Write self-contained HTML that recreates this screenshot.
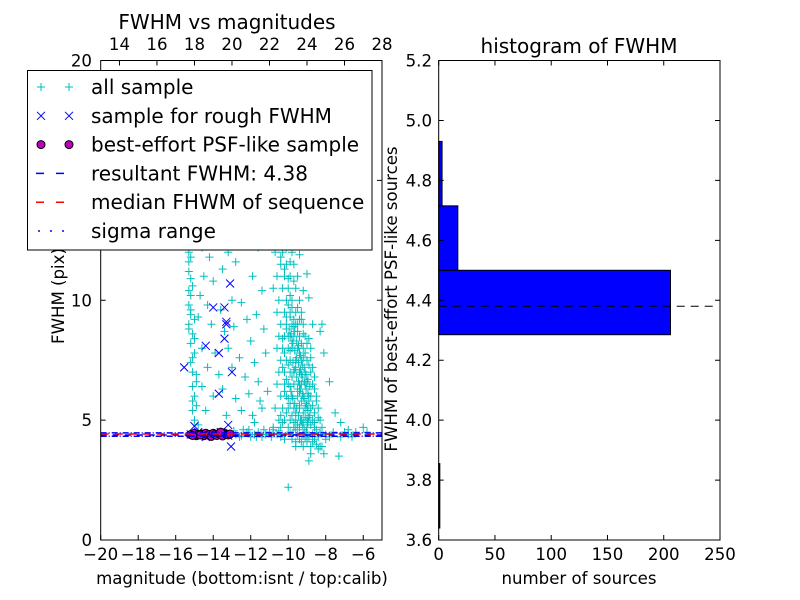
<!DOCTYPE html>
<html><head><meta charset="utf-8"><style>
body{margin:0;background:#fff;}
svg{display:block;font-family:"DejaVu Sans","Liberation Sans",sans-serif;}
</style></head><body>
<svg id="c" width="800" height="600" viewBox="0 0 800 600"></svg>
<script>
const allSample=[[-15.3,12.0],[-15.2,11.8],[-15.3,11.2],[-15.1,10.6],[-15.3,9.8],[-15.2,9.4],[-15.0,9.2],[-15.3,9.0],[-15.1,8.6],[-15.2,8.2],[-15.0,7.8],[-15.2,7.4],[-15.1,7.0],[-14.9,6.6],[-15.1,6.4],[-15.0,6.0],[-14.9,5.6],[-15.1,5.4],[-15.0,5.0],[-14.8,4.8],[-15.2,10.2],[-15.3,8.8],[-15.1,7.6],[-14.9,6.9],[-15.3,11.6],[-15.2,10.9],[-15.3,10.4],[-15.2,9.6],[-15.0,8.4],[-15.1,5.8],
[-14.6,12.2],[-14.2,11.8],[-13.8,12.4],[-13.2,12.0],[-14.5,11.0],[-14.0,10.8],[-13.5,11.3],[-12.8,11.6],[-14.7,10.2],[-14.3,9.8],[-13.6,9.6],[-13.0,10.0],[-12.5,9.9],[-14.8,9.3],[-14.1,9.0],[-13.4,8.7],[-12.9,8.9],[-12.2,9.2],[-14.6,8.0],[-13.9,7.8],[-13.2,8.0],[-12.6,7.6],[-12.0,8.3],[-14.3,7.2],[-13.7,6.9],[-13.0,7.2],[-12.3,6.8],[-11.8,7.4],[-14.6,6.4],[-14.0,6.0],[-13.5,6.3],[-12.8,5.9],[-12.1,6.1],[-11.6,6.6],[-14.4,5.4],[-13.3,5.2],[-12.5,5.4],[-11.9,5.2],[-14.0,13.0],[-13.0,13.4],[-12.4,12.8],[-11.6,12.2],[-11.9,11.0],[-11.4,10.4],[-11.7,9.4],[-11.3,8.8],[-11.2,7.8],[-11.5,5.8],[-11.1,6.2],
[-10.6,13.0],[-10.2,13.0],[-9.9,12.9],[-10.5,12.5],[-10.0,12.5],[-9.6,12.4],[-10.7,12.0],[-10.3,12.0],[-9.8,12.0],[-9.4,11.9],[-10.4,11.5],[-10.1,11.5],[-9.7,11.5],[-10.6,11.0],[-10.2,11.0],[-9.9,11.0],[-9.5,11.0],[-9.0,11.1],[-10.8,10.5],[-10.3,10.5],[-10.0,10.5],[-9.6,10.5],[-9.2,10.4],[-10.5,10.0],[-10.1,10.0],[-9.8,10.0],[-9.4,10.0],[-8.9,10.1],[-10.6,9.5],[-10.2,9.5],[-9.9,9.5],[-9.6,9.5],[-9.3,9.5],[-10.4,9.0],[-10.1,9.0],[-9.8,9.0],[-9.5,9.0],[-9.2,9.0],[-8.7,9.0],[-10.5,8.5],[-10.2,8.5],[-9.9,8.5],[-9.7,8.5],[-9.4,8.5],[-9.1,8.5],[-10.6,8.0],[-10.3,8.0],[-10.0,8.0],[-9.8,8.0],[-9.5,8.0],[-9.2,8.0],[-8.8,8.0],[-10.4,7.5],[-10.1,7.5],[-9.9,7.5],[-9.6,7.5],[-9.3,7.5],[-9.0,7.5],[-10.5,7.0],[-10.2,7.0],[-9.9,7.0],[-9.7,7.0],[-9.4,7.0],[-9.1,7.0],[-8.8,7.0],[-10.6,6.5],[-10.2,6.5],[-10.0,6.5],[-9.7,6.5],[-9.4,6.5],[-9.1,6.5],[-8.7,6.5],[-10.4,6.0],[-10.1,6.0],[-9.8,6.0],[-9.5,6.0],[-9.2,6.0],[-8.9,6.0],[-8.5,6.0],[-10.7,5.5],[-10.3,5.5],[-10.0,5.5],[-9.7,5.5],[-9.4,5.5],[-9.1,5.5],[-8.8,5.5],[-8.4,5.5],[-10.5,5.0],[-10.2,5.0],[-9.9,5.0],[-9.6,5.0],[-9.3,5.0],[-9.0,5.0],[-8.7,5.0],[-8.3,5.0],[-10.8,4.7],[-10.4,4.7],[-10.0,4.7],[-9.7,4.7],[-9.4,4.7],[-9.0,4.7],[-8.6,4.7],[-8.2,4.7],[-10.2,4.2],[-9.8,4.2],[-9.4,4.2],[-9.0,4.2],[-8.6,4.2],[-8.0,4.2],[-9.6,3.9],[-9.2,3.9],[-8.8,3.9],[-8.3,3.9],[-8.8,3.6],[-8.1,3.6],[-7.3,3.5],
[-9.8,8.3],[-9.6,7.2],[-9.5,6.3],[-9.3,5.8],[-9.6,5.3],[-9.2,4.9],[-9.9,4.5],[-9.5,4.4],[-9.8,6.8],[-9.4,7.8],[-9.7,9.2],[-9.9,10.2],[-10.1,8.8],
[-9.95,8.8],[-9.85,8.6],[-9.75,8.2],[-9.65,7.9],[-9.55,7.6],[-9.45,7.4],[-9.35,7.1],[-9.25,6.8],[-9.15,6.6],[-9.05,6.3],[-8.95,6.1],[-9.65,8.7],[-9.55,8.3],[-9.45,8.1],[-9.35,7.7],[-9.25,7.3],[-9.15,7.2],[-9.05,6.9],[-8.95,6.7],[-8.85,6.4],[-9.75,7.4],[-9.65,7.1],[-9.55,6.8],[-9.45,6.6],[-9.35,6.3],[-9.25,6.1],[-9.15,5.9],[-9.05,5.7],[-8.95,5.4],[-8.85,5.2],[-9.85,6.2],[-9.75,5.9],[-9.65,5.7],[-9.55,5.5],[-9.45,5.2],[-9.35,5.0],[-9.25,4.8],[-9.15,4.6],[-9.05,4.5],[-8.95,4.9],[-9.8,5.2],[-9.7,4.9],[-9.6,4.6],[-9.5,4.8],[-9.4,5.6],[-9.3,6.5],[-9.2,5.3],[-9.1,5.1],[-9.0,5.6],[-8.9,5.8],[-8.8,4.8],[-8.7,4.4],[-8.6,5.3],[-8.5,4.6],[-8.4,4.3],[-10.0,9.8],[-9.9,9.3],[-9.8,9.7],[-9.7,8.9],[-9.6,9.0],[-9.5,8.7],[-9.4,9.2],[-9.3,8.2],[-9.2,8.6],[-10.1,9.3],[-10.0,8.5],[-9.9,7.9],[-10.3,8.4],[-10.2,7.8],[-10.0,7.3],[-10.3,7.2],[-10.1,6.7],[-9.9,6.4],[-10.2,6.2],[-10.0,5.9],[-10.1,5.3],[-9.9,5.7],[-10.4,5.2],[-10.3,4.9],[-10.0,10.9],[-10.2,11.3],[-10.4,11.8],[-10.3,12.3],[-10.1,12.2],[-9.9,11.6],[-9.7,10.8],[-9.5,9.7],[-9.3,9.2],[-9.2,4.4],[-9.0,4.1],[-8.9,4.3],[-8.7,4.1],[-8.5,4.0],[-8.4,3.8],[-8.2,3.9],[-9.1,4.3],[-9.3,4.1],[-9.6,4.1],[-9.8,4.4],
[-8.8,7.6],[-8.7,7.2],[-8.6,6.8],[-8.6,6.3],[-8.5,5.8],[-8.4,5.1],[-8.3,4.5],[-8.9,8.4],[-8.8,6.0],[-8.7,5.6],[-8.6,4.9],[-8.9,7.3],[-9.0,8.2],[-9.1,7.8],[-9.2,7.6],[-9.3,6.9],[-9.4,6.2],[-9.0,6.6],[-8.9,5.1],
[-11.8,4.9],[-11.4,5.5],[-8.1,7.8],[-7.8,6.6],[-7.5,5.3],[-8.3,8.7],[-8.2,9.0],[-7.2,4.9],[-6.8,4.6],[-6.0,4.7],[-5.8,4.5],[-10.0,2.2],[-8.9,3.3],
[-12.8,4.4],[-12.4,4.6],[-12.0,4.3],[-11.6,4.5],[-11.2,4.4],[-10.8,4.6],[-10.4,4.3],[-8.0,4.4],[-7.6,4.5],[-7.2,4.3],[-6.8,4.4],[-6.4,4.5],[-12.6,4.3],[-12.2,4.5],[-11.8,4.4],[-11.4,4.3],[-11.0,4.5],[-10.6,4.4],[-7.8,4.3],[-7.0,4.5],[-6.6,4.3],[-12.9,4.55],[-12.5,4.35],[-12.1,4.6],[-11.7,4.3],[-11.3,4.6],[-10.9,4.3],[-10.5,4.55]];
const roughSample=[[-13.1,10.7],[-14.0,9.7],[-13.4,9.7],[-13.3,9.0],[-13.3,9.1],[-13.4,8.4],[-14.4,8.1],[-13.7,7.8],[-13.0,7.0],[-15.55,7.2],[-13.7,6.1],[-15.0,4.75],[-13.2,4.8],[-13.05,3.9],[-15.2,4.4],[-14.8,4.5],[-14.4,4.3],[-14.0,4.4],[-13.6,4.5],[-13.2,4.35]];
const psfSample=[[-15.2,4.4],[-15.0,4.45],[-14.9,4.35],[-14.8,4.4],[-14.6,4.42],[-14.5,4.35],[-14.4,4.45],[-14.3,4.38],[-14.2,4.4],[-14.1,4.32],[-14.0,4.45],[-13.9,4.4],[-13.8,4.36],[-13.7,4.44],[-13.6,4.4],[-13.5,4.34],[-13.4,4.46],[-13.3,4.4],[-13.2,4.38],[-13.1,4.42],[-14.7,4.38],[-15.1,4.36],[-13.6,4.5]];
const resultFwhm=4.38, medianFwhm=4.42, sigmaLow=4.33, sigmaHigh=4.47;
const binEdges=[3.64,3.855,4.07,4.285,4.50,4.715,4.93];
const binCounts=[1,0,0,206,17,3];
const xTicksBottom=[-20,-18,-16,-14,-12,-10,-8,-6];
const xTicksTop=[14,16,18,20,22,24,26,28];
const yTicksLeft=[0,5,10,15,20];
const yTicksRight=[3.6,3.8,4.0,4.2,4.4,4.6,4.8,5.0,5.2];
const xTicksRight=[0,50,100,150,200,250];

const S=document.getElementById('c'),NS='http://www.w3.org/2000/svg';
function mk(t,a,p){const e=document.createElementNS(NS,t);for(const k in a)e.setAttribute(k,a[k]);(p||S).appendChild(e);return e;}
const L={x0:100.7,x1:382,y0:540,y1:60.5};
const lx=m=>L.x0+(m+20)/15*(L.x1-L.x0);
const ltx=m=>lx(m-33);
const ly=f=>L.y0-f/20*(L.y0-L.y1);
const R={x0:438.7,x1:720,y0:540,y1:60.5};
const rx=n=>R.x0+n/250*(R.x1-R.x0);
const ry=f=>R.y0-(f-3.6)/1.6*(R.y0-R.y1);
function txt(x,y,s,o){const t=mk('text',Object.assign({x:x,y:y,'font-size':16.6,fill:'#000'},o||{}));t.textContent=s;return t;}

const gl=mk('g',{});


const clipD=mk('clipPath',{id:'cl'});mk('rect',{x:L.x0,y:L.y1,width:L.x1-L.x0,height:L.y0-L.y1},clipD);
const pts=mk('g',{'clip-path':'url(#cl)'},gl);
allSample.forEach(p=>{const x=lx(p[0]),y=ly(p[1]);const e=mk('path',{d:`M${x-4},${y}H${x+4}M${x},${y-4}V${y+4}`,stroke:'#00bfbf','stroke-width':1},pts);

});
roughSample.forEach(p=>{const x=lx(p[0]),y=ly(p[1]);const e=mk('path',{d:`M${x-4},${y-4}L${x+4},${y+4}M${x-4},${y+4}L${x+4},${y-4}`,stroke:'#0000ff','stroke-width':1},pts);

});
psfSample.forEach(p=>{const e=mk('circle',{cx:lx(p[0]),cy:ly(p[1]),r:4,fill:'#bf00bf',stroke:'#000','stroke-width':1},pts);

});
[[sigmaLow,'#0000ff','6,2,1,2','sigma-low-line'],[sigmaHigh,'#0000ff','6,2,1,2','sigma-high-line'],[resultFwhm,'#0000ff','6,6','resultant-fwhm-line'],[medianFwhm,'#ff0000','8,6','median-fwhm-line']].forEach(a=>{
const e=mk('line',{x1:L.x0,x2:L.x1,y1:ly(a[0]),y2:ly(a[0]),stroke:a[1],'stroke-width':1.5,'stroke-dasharray':a[2]},pts);

});
mk('rect',{x:L.x0,y:L.y1,width:L.x1-L.x0,height:L.y0-L.y1,fill:'none',stroke:'#000','stroke-width':1},gl);
xTicksBottom.forEach(v=>{const x=lx(v);mk('path',{d:`M${x},${L.y0}v-5`,stroke:'#000'},gl);txt(x,560,(v<0?'\u2212':'')+Math.abs(v),{'text-anchor':'middle'});});
xTicksTop.forEach(v=>{const x=ltx(v);mk('path',{d:`M${x},${L.y1}v5`,stroke:'#000'},gl);txt(x,50,String(v),{'text-anchor':'middle'});});
yTicksLeft.forEach(v=>{const y=ly(v);mk('path',{d:`M${L.x0},${y}h5M${L.x1},${y}h-5`,stroke:'#000'},gl);txt(92,y+6,String(v),{'text-anchor':'end'});});
txt(242,584,'magnitude (bottom:isnt / top:calib)',{'text-anchor':'middle'});
txt(227,29,'FWHM vs magnitudes',{'text-anchor':'middle','font-size':20});
txt(0,0,'FWHM (pix)',{'text-anchor':'middle',transform:'translate(64,296) rotate(-90)'});

const lg=mk('g',{});


mk('rect',{x:27.5,y:70.5,width:344.5,height:179.5,fill:'#fff',stroke:'#000'},lg);
const items=['all sample','sample for rough FWHM','best-effort PSF-like sample','resultant FWHM: 4.38','median FHWM of sequence','sigma range'];
items.forEach((s,i)=>{const y=87+i*28.8;
[41,69].forEach(x=>{
if(i==0)mk('path',{d:`M${x-4},${y}H${x+4}M${x},${y-4}V${y+4}`,stroke:'#00bfbf'},lg);
if(i==1)mk('path',{d:`M${x-4},${y-4}L${x+4},${y+4}M${x-4},${y+4}L${x+4},${y-4}`,stroke:'#0000ff'},lg);
if(i==2)mk('circle',{cx:x,cy:y,r:4,fill:'#bf00bf',stroke:'#000'},lg);});
if(i==3)mk('line',{x1:36,x2:74,y1:y,y2:y,stroke:'#0000ff','stroke-dasharray':'8,12','stroke-width':1.5},lg);
if(i==4)mk('line',{x1:36,x2:74,y1:y,y2:y,stroke:'#ff0000','stroke-dasharray':'8,12','stroke-width':1.5},lg);
if(i==5)mk('line',{x1:38,x2:74,y1:y,y2:y,stroke:'#0000ff','stroke-dasharray':'2,10,2,10','stroke-width':1.5},lg);
const t=txt(91,y+7,s,{'font-size':20});

});

const gr=mk('g',{});


binCounts.forEach((c,i)=>{if(c<=0)return;const y0=ry(binEdges[i+1]),y1=ry(binEdges[i]);
const e=mk('rect',{x:R.x0,y:y0,width:Math.max(rx(c)-R.x0,0.8),height:y1-y0,fill:'#0000ff',stroke:'#000','stroke-width':1},gr);

});
const dl=mk('line',{x1:R.x0,x2:R.x1-5,y1:ry(resultFwhm),y2:ry(resultFwhm),stroke:'#000','stroke-dasharray':'8,6','stroke-width':1},gr);


mk('rect',{x:R.x0,y:R.y1,width:R.x1-R.x0,height:R.y0-R.y1,fill:'none',stroke:'#000'},gr);
xTicksRight.forEach(v=>{const x=rx(v);mk('path',{d:`M${x},${R.y0}v-5M${x},${R.y1}v5`,stroke:'#000'},gr);txt(x,560,String(v),{'text-anchor':'middle'});});
yTicksRight.forEach(v=>{const y=ry(v);mk('path',{d:`M${R.x0},${y}h5M${R.x1},${y}h-5`,stroke:'#000'},gr);txt(432,y+6,v.toFixed(1),{'text-anchor':'end'});});
txt(579,584,'number of sources',{'text-anchor':'middle'});
txt(579,53,'histogram of FWHM',{'text-anchor':'middle','font-size':20});
txt(0,0,'FWHM of best-effort PSF-like sources',{'text-anchor':'middle',transform:'translate(397,299) rotate(-90)'});
</script>
</body></html>
